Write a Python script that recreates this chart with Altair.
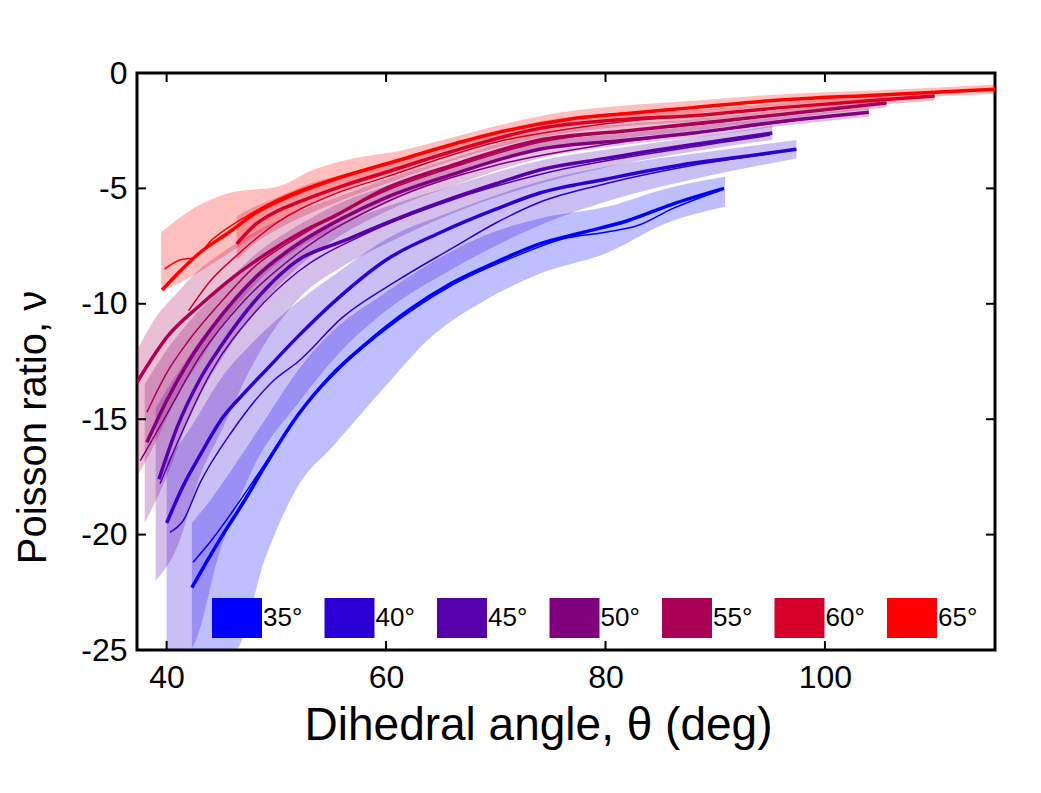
import altair as alt
import pandas as pd

ANGLES = ["35°", "40°", "45°", "50°", "55°", "60°", "65°"]
COLORS = ["#0000ff", "#2a00d4", "#5500aa", "#800080", "#aa0055", "#d4002a", "#ff0000"]
X_TICKS = [40, 60, 80, 100]
Y_TICKS = [0, -5, -10, -15, -20, -25]

# ---- thick (mean) lines ----
THICK_35_X = [42.3, 43.5, 45, 47, 49, 52, 55, 58, 62, 66, 70, 74, 78, 82, 86, 90.8]
THICK_35_Y = [-22.3, -21.3, -20.1, -18.6, -17.0, -14.8, -13.1, -11.8, -10.3, -9.1, -8.2, -7.4, -6.9, -6.4, -5.7, -5.0]
THICK_40_X = [40.0, 41.5, 43, 45, 47, 49, 52, 56, 60, 65, 70, 74, 80, 88, 93, 97.4]
THICK_40_Y = [-19.5, -17.9, -16.6, -15.0, -13.9, -12.9, -11.4, -9.6, -8.1, -6.9, -5.9, -5.2, -4.6, -3.9, -3.6, -3.3]
THICK_45_X = [39.3, 41, 43, 45, 48, 52, 56, 60, 65, 70, 74, 80, 88, 95.2]
THICK_45_Y = [-17.6, -15.3, -13.3, -11.8, -9.9, -8.1, -7.3, -6.5, -5.6, -4.8, -4.2, -3.7, -3.1, -2.6]
THICK_50_X = [38.2, 40, 42, 45, 48, 52, 56, 60, 66, 74, 82, 88, 96, 104]
THICK_50_Y = [-16.0, -14.2, -12.5, -10.5, -8.9, -7.4, -6.3, -5.4, -4.4, -3.3, -2.9, -2.6, -2.1, -1.7]
THICK_55_X = [37.3, 40.1, 43.2, 46.2, 49.2, 52.3, 55.3, 60, 66, 74, 82, 88, 96, 105.6]
THICK_55_Y = [-13.4, -11.4, -10.0, -8.8, -7.8, -6.9, -6.2, -5.0, -4.0, -2.9, -2.5, -2.2, -1.8, -1.3]
THICK_60_X = [46.4, 48, 50, 52, 56, 60, 66, 74, 82, 88, 96, 104, 110]
THICK_60_Y = [-7.4, -6.6, -6.0, -5.6, -4.9, -4.3, -3.4, -2.4, -2.0, -1.85, -1.5, -1.2, -1.0]
THICK_65_X = [39.6, 41, 43, 45.7, 48, 51.9, 56, 61, 66, 70, 76.7, 82, 88, 95, 105, 115.5]
THICK_65_Y = [-9.4, -8.7, -7.8, -6.9, -6.1, -5.2, -4.5, -3.8, -3.1, -2.6, -2.0, -1.75, -1.5, -1.2, -0.95, -0.7]

# ---- thin (second) lines ----
THIN_35_X = [42.4, 44, 46, 49, 52, 56, 60, 66, 72, 76, 80, 83, 86, 90.4]
THIN_35_Y = [-21.2, -20.3, -19.0, -16.9, -14.8, -12.7, -11.1, -9.2, -7.9, -7.2, -6.9, -6.6, -5.9, -5.1]
THIN_40_X = [40.3, 41.5, 43, 46, 49.8, 52, 56, 61, 66, 70, 74, 80, 88, 95]
THIN_40_Y = [-19.9, -19.4, -17.8, -15.5, -13.3, -12.5, -10.6, -9.0, -7.6, -6.5, -5.6, -4.8, -4.0, -3.5]
THIN_45_X = [39.4, 41, 44, 48, 52, 58, 66, 74, 88, 95]
THIN_45_Y = [-17.8, -16.0, -13.0, -10.4, -8.6, -7.0, -5.5, -4.4, -3.2, -2.7]
THIN_50_X = [37.6, 40, 43, 47, 52, 60, 70, 80, 90, 100]
THIN_50_Y = [-16.8, -14.8, -12.3, -9.9, -7.8, -5.6, -4.0, -3.1, -2.5, -1.9]
THIN_55_X = [38.2, 40, 42, 45, 48, 52, 56, 60, 66, 74, 82, 88, 96, 105.6]
THIN_55_Y = [-14.7, -13.0, -11.6, -9.9, -8.4, -7.1, -6.0, -5.1, -4.1, -3.0, -2.5, -2.25, -1.8, -1.3]
THIN_60_X = [42, 44, 46.4, 50, 55, 60, 70, 80, 90, 100, 108]
THIN_60_Y = [-10.3, -9.0, -7.9, -6.5, -5.3, -4.5, -3.0, -2.2, -1.75, -1.35, -1.05]
THIN_65_X = [39.8, 41.2, 42.5, 44.2, 47.3, 50, 55, 60]
THIN_65_Y = [-8.5, -8.1, -8.0, -7.2, -6.2, -5.5, -4.6, -3.95]

# ---- shaded bands (lower / upper) ----
BAND_35_X = [42.3, 44, 46.2, 49, 52.1, 55.1, 59.7, 64.2, 69.2, 74, 80.1, 85.6, 90.9]
BAND_35_LO = [-25, -25, -25, -21.0, -17.8, -16.2, -13.7, -11.4, -9.8, -8.7, -7.8, -6.5, -5.8]
BAND_35_HI = [-19.5, -18.5, -17.0, -15.0, -12.8, -11.2, -9.6, -8.2, -7.0, -6.3, -5.8, -5.0, -4.5]
BAND_40_X = [40.0, 42, 45, 48, 52, 56, 60, 66, 74, 82, 88, 97.4]
BAND_40_LO = [-25, -25, -20.5, -17.0, -14.3, -12.0, -10.3, -8.5, -6.6, -5.3, -4.6, -3.7]
BAND_40_HI = [-16.8, -15.5, -13.2, -11.6, -9.9, -8.5, -7.2, -6.0, -4.7, -3.9, -3.5, -2.9]
BAND_45_X = [39.0, 41, 43, 45, 48, 52, 56, 60, 66, 74, 82, 88, 95.2]
BAND_45_LO = [-22, -20.5, -17.5, -15.5, -12.5, -9.8, -8.4, -7.4, -6.1, -4.8, -3.9, -3.4, -2.9]
BAND_45_HI = [-14.5, -13.0, -11.6, -10.4, -8.8, -7.3, -6.5, -5.8, -4.9, -3.8, -3.2, -2.8, -2.3]
BAND_50_X = [38.0, 40, 42, 45, 48, 52, 56, 60, 66, 74, 82, 88, 96, 104]
BAND_50_LO = [-19.5, -17.5, -15.0, -12.4, -10.4, -8.4, -7.0, -6.0, -4.9, -3.7, -3.1, -2.8, -2.3, -1.9]
BAND_50_HI = [-13.5, -12.0, -10.8, -9.3, -7.9, -6.6, -5.6, -4.9, -4.0, -3.0, -2.6, -2.3, -1.9, -1.5]
BAND_55_X = [37.3, 39, 41, 43, 45, 48, 52, 56, 60, 66, 74, 82, 88, 96, 105.6]
BAND_55_LO = [-17.5, -16.0, -14.0, -12.5, -11.0, -9.2, -7.6, -6.6, -5.6, -4.5, -3.3, -2.8, -2.5, -2.0, -1.5]
BAND_55_HI = [-12.0, -10.6, -9.5, -8.5, -7.8, -6.9, -6.0, -5.3, -4.6, -3.7, -2.6, -2.2, -2.0, -1.6, -1.1]
BAND_60_X = [46.4, 48, 50, 53, 56, 60, 66, 74, 82, 88, 96, 104, 110]
BAND_60_LO = [-8.1, -7.4, -6.8, -6.1, -5.5, -4.8, -3.8, -2.8, -2.3, -2.1, -1.7, -1.4, -1.2]
BAND_60_HI = [-6.2, -5.8, -5.4, -4.8, -4.4, -3.9, -3.1, -2.1, -1.7, -1.6, -1.3, -1.0, -0.85]
BAND_65_X = [39.5, 42.7, 45.7, 50.3, 53.3, 57, 61, 66, 70, 76, 82, 88, 95, 105, 115.5]
BAND_65_LO = [-9.5, -8.7, -7.8, -6.4, -5.7, -4.9, -4.3, -3.5, -3.0, -2.4, -2.0, -1.75, -1.45, -1.15, -0.9]
BAND_65_HI = [-6.9, -5.8, -5.2, -4.9, -4.2, -3.7, -3.4, -2.8, -2.3, -1.7, -1.4, -1.2, -0.95, -0.75, -0.5]

THICK = [(THICK_35_X, THICK_35_Y), (THICK_40_X, THICK_40_Y), (THICK_45_X, THICK_45_Y),
         (THICK_50_X, THICK_50_Y), (THICK_55_X, THICK_55_Y), (THICK_60_X, THICK_60_Y),
         (THICK_65_X, THICK_65_Y)]
THIN = [(THIN_35_X, THIN_35_Y), (THIN_40_X, THIN_40_Y), (THIN_45_X, THIN_45_Y),
        (THIN_50_X, THIN_50_Y), (THIN_55_X, THIN_55_Y), (THIN_60_X, THIN_60_Y),
        (THIN_65_X, THIN_65_Y)]
BANDS = [(BAND_35_X, BAND_35_LO, BAND_35_HI), (BAND_40_X, BAND_40_LO, BAND_40_HI),
         (BAND_45_X, BAND_45_LO, BAND_45_HI), (BAND_50_X, BAND_50_LO, BAND_50_HI),
         (BAND_55_X, BAND_55_LO, BAND_55_HI), (BAND_60_X, BAND_60_LO, BAND_60_HI),
         (BAND_65_X, BAND_65_LO, BAND_65_HI)]

thick_rows, thin_rows, band_rows = [], [], []
for i, a in enumerate(ANGLES):
    for x, y in zip(*THICK[i]):
        thick_rows.append({"angle": a, "theta": x, "nu": y})
    for x, y in zip(*THIN[i]):
        thin_rows.append({"angle": a, "theta": x, "nu": y})
    bx, lo, hi = BANDS[i]
    for x, l, h in zip(bx, lo, hi):
        band_rows.append({"angle": a, "theta": x, "lo": l, "hi": h})

thick_df = pd.DataFrame(thick_rows)
thin_df = pd.DataFrame(thin_rows)
band_df = pd.DataFrame(band_rows)
legend_df = pd.DataFrame({"angle": ANGLES, "theta": [0] * 7, "nu": [10] * 7})

FONT = "Liberation Sans"
W, H = 858, 577

xs = alt.Scale(domain=[37.3, 115.5], nice=False, zero=False)
ys = alt.Scale(domain=[-25, 0], nice=False, zero=False)
cs = alt.Scale(domain=ANGLES, range=COLORS)

xaxis = alt.Axis(values=X_TICKS, title="Dihedral angle, θ (deg)", grid=False, domain=False,
                 ticks=False, labelFontSize=32, labelPadding=12, titleFontSize=46,
                 titleX=401, titleY=75, titleBaseline="middle", labelFont=FONT,
                 titleFont=FONT, labelColor="#000", titleColor="#000", titleFontWeight="normal")
yaxis = alt.Axis(values=Y_TICKS, title="Poisson ratio, ν", grid=False, domain=False,
                 ticks=False, labelFontSize=32, labelPadding=10, titleFontSize=40,
                 titleX=-104, titleY=354, titleBaseline="middle", labelFont=FONT,
                 titleFont=FONT, labelColor="#000", titleColor="#000", titleFontWeight="normal",
                 labelExpr="datum.value + ''")

RECT = "M-1.25,-1H1.25V1H-1.25Z"
LEGEND = alt.Legend(
    title=None, orient="none", legendX=80, legendY=525, direction="horizontal",
    symbolType=RECT, symbolSize=1600, symbolStrokeWidth=0, symbolOpacity=1,
    labelFontSize=26, labelFont=FONT, labelColor="#000", labelOffset=6,
    columnPadding=21.5, padding=0, columns=7)

legend_layer = alt.Chart(legend_df).mark_point(
    filled=True, opacity=1, size=1600, shape=RECT, clip=True
).encode(
    x=alt.X("theta:Q", scale=xs, axis=xaxis),
    y=alt.Y("nu:Q", scale=ys, axis=yaxis),
    color=alt.Color("angle:N", scale=cs, legend=LEGEND),
)

bands = alt.Chart(band_df).mark_area(fillOpacity=0.25, clip=True, interpolate="monotone").encode(
    x="theta:Q",
    y=alt.Y("lo:Q", stack=None),
    y2="hi:Q",
    color=alt.Color("angle:N", scale=cs),
    detail="angle:N",
)

thin = alt.Chart(thin_df).mark_line(strokeWidth=1.5, clip=True, interpolate="monotone").encode(
    x="theta:Q", y="nu:Q",
    color=alt.Color("angle:N", scale=cs),
    detail="angle:N",
)

thick = alt.Chart(thick_df).mark_line(strokeWidth=3.5, clip=True, interpolate="monotone").encode(
    x="theta:Q", y="nu:Q",
    color=alt.Color("angle:N", scale=cs),
    detail="angle:N",
)

xt_df = pd.DataFrame({"v": X_TICKS})
yt_df = pd.DataFrame({"v": Y_TICKS})
tick_style = dict(color="black", strokeWidth=2)
xtick_b = alt.Chart(xt_df).mark_rule(**tick_style).encode(x="v:Q", y=alt.value(H), y2=alt.value(H - 9))
xtick_t = alt.Chart(xt_df).mark_rule(**tick_style).encode(x="v:Q", y=alt.value(0), y2=alt.value(9))
ytick_l = alt.Chart(yt_df).mark_rule(**tick_style).encode(y="v:Q", x=alt.value(0), x2=alt.value(9))
ytick_r = alt.Chart(yt_df).mark_rule(**tick_style).encode(y="v:Q", x=alt.value(W), x2=alt.value(W - 9))

chart = alt.layer(legend_layer, bands, thin, thick, xtick_b, xtick_t, ytick_l, ytick_r).properties(
    width=W, height=H,
    autosize=alt.AutoSizeParams(type="none"),
    padding={"left": 137, "top": 73, "right": 46, "bottom": 143},
    background="white",
).configure_view(stroke="black", strokeWidth=3)

chart.save("out.html", embed_options={"renderer": "svg", "actions": False})
